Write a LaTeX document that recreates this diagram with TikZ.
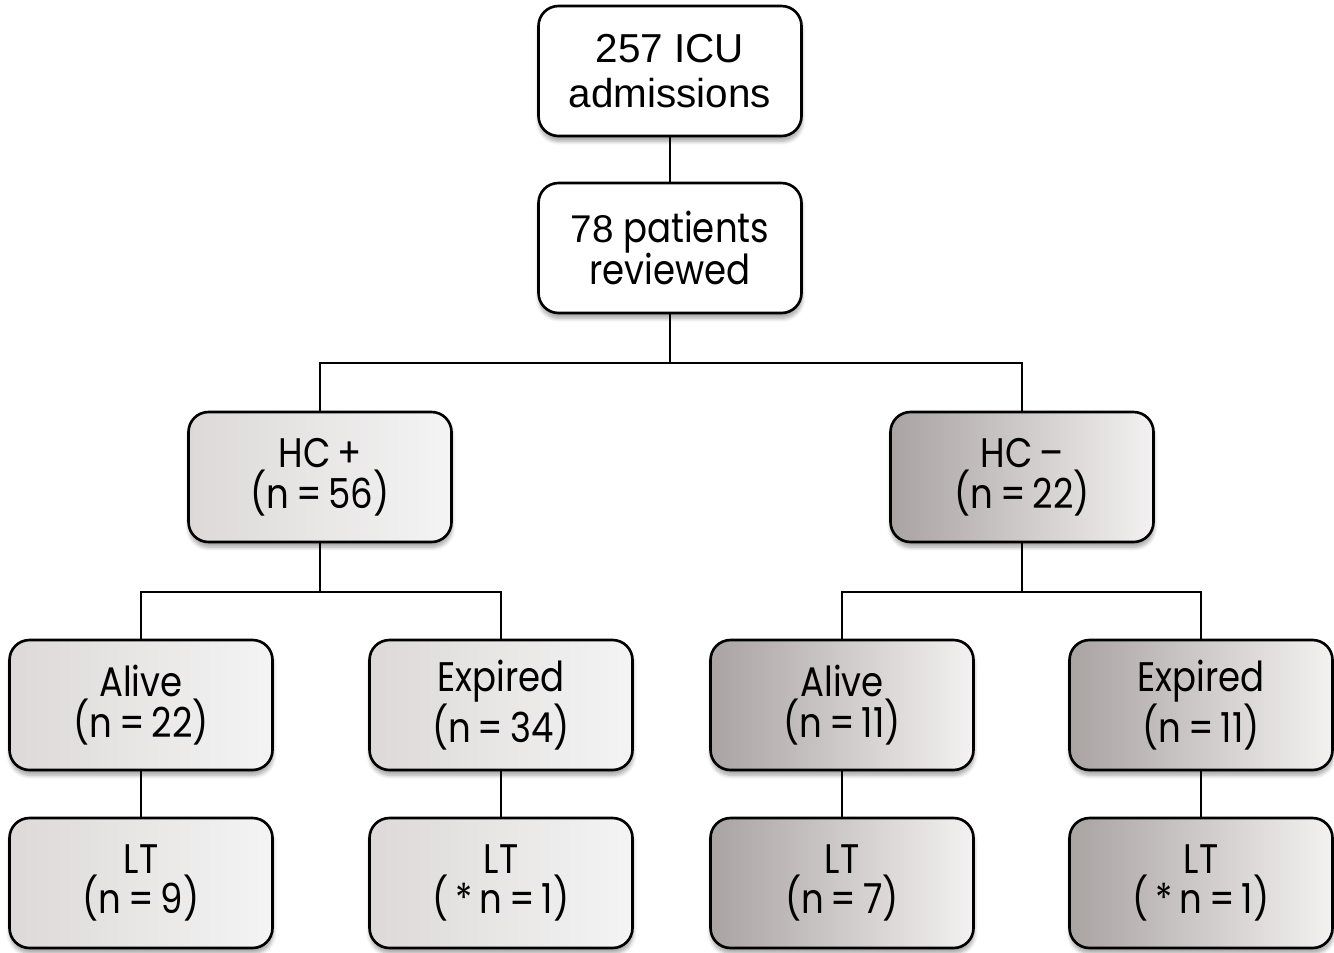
\documentclass[tikz,border=0pt]{standalone}
\usepackage{fontspec}
\setmainfont{Poppins}[FakeStretch=0.86]
\newfontfamily\arialfont{Liberation Sans}
\usetikzlibrary{shadows.blur}
\definecolor{lightL}{HTML}{DCD9D8}
\definecolor{lightR}{HTML}{F4F4F4}
\definecolor{darkL}{HTML}{A9A3A2}
\definecolor{darkR}{HTML}{F3F1F1}

\tikzset{
    box/.style={draw=black, line width=1.5pt, rounded corners=0.4cm,
        minimum width=5.26cm, minimum height=2.6cm, inner sep=0pt, align=center,
        font=\fontsize{23.5}{21.5}\selectfont,
        blur shadow={shadow xshift=0.3pt, shadow yshift=-3pt, shadow blur steps=6, shadow opacity=35}},
    whitebox/.style={box, fill=white},
    pluspos/.style={box, left color=lightL, right color=lightR},
    minusneg/.style={box, left color=darkL, right color=darkR},
    link/.style={line width=1.1pt}
}

\begin{document}
\begin{tikzpicture}

    \useasboundingbox (0,0) rectangle (26.68,-19.04);

    % top of the chart
    \node[whitebox, font=\arialfont\fontsize{23}{26}\selectfont] (icu) at (13.4,-1.42) {257 ICU\\admissions};
    \node[whitebox, font=\fontsize{23.5}{24}\selectfont] (rev) at (13.4,-4.96) {{\arialfont\fontsize{22}{24}\selectfont 78} patients\\reviewed};

    % culture groups
    \node[pluspos] (hcp) at (6.4,-9.54) {HC\,+\\(n\,=\,56)};
    \node[minusneg] (hcm) at (20.44,-9.54) {HC\,–\\(n\,=\,22)};

    % outcome
    \node[pluspos] (alivep) at (2.82,-14.1) {Alive\\(n\,=\,22)};
    \node[pluspos] (expp) at (10.02,-14.1) {Expired\\(n\,=\,34)};
    \node[minusneg] (alivem) at (16.84,-14.1) {Alive\\(n\,=\,11)};
    \node[minusneg] (expm) at (24.02,-14.1) {Expired\\(n\,=\,11)};

    % transplant
    \node[pluspos] (ltap) at (2.82,-17.66) {LT\\(n\,=\,9)};
    \node[pluspos] (ltep) at (10.02,-17.66) {LT\\(\,*\,n\,=\,1)};
    \node[minusneg] (ltam) at (16.84,-17.66) {LT\\(n\,=\,7)};
    \node[minusneg] (ltem) at (24.02,-17.66) {LT\\(\,*\,n\,=\,1)};

    % connectors
    \draw[link] (icu) -- (rev);
    \draw[link] (rev.south) -- ++(0,-0.98) -| (hcp.north);
    \draw[link] (rev.south) -- ++(0,-0.98) -| (hcm.north);
    \draw[link] (hcp.south) -- ++(0,-0.98) -| (alivep.north);
    \draw[link] (hcp.south) -- ++(0,-0.98) -| (expp.north);
    \draw[link] (hcm.south) -- ++(0,-0.98) -| (alivem.north);
    \draw[link] (hcm.south) -- ++(0,-0.98) -| (expm.north);
    \draw[link] (alivep) -- (ltap);
    \draw[link] (expp) -- (ltep);
    \draw[link] (alivem) -- (ltam);
    \draw[link] (expm) -- (ltem);

\end{tikzpicture}
\end{document}
